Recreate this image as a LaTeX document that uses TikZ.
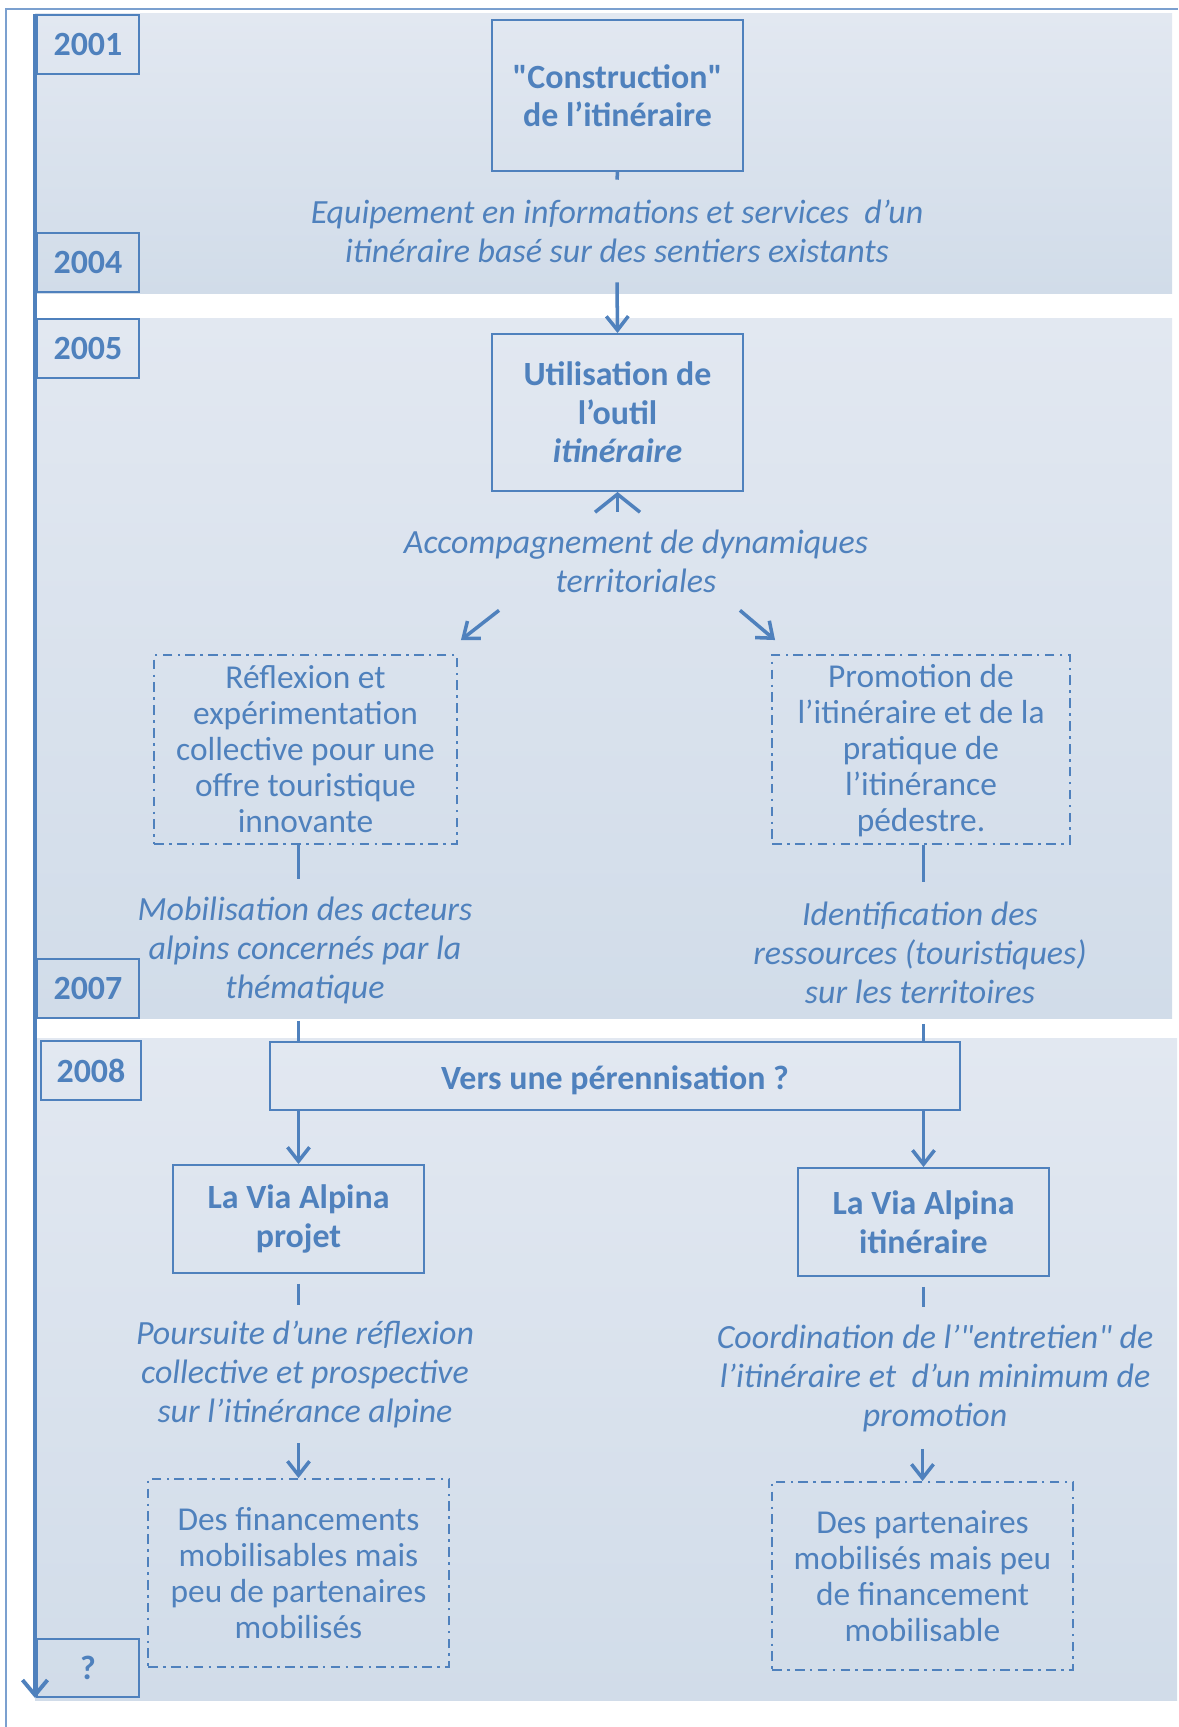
\documentclass[tikz,border=0pt]{standalone}
\usepackage{fontspec}
\setmainfont{Carlito}[Ligatures=TeXOff]
\usetikzlibrary{arrows.meta, positioning, calc}

\definecolor{itblue}{HTML}{4F81BD}
\definecolor{bandtop}{HTML}{E2E8F1}
\definecolor{bandbot}{HTML}{D1DCE9}
\definecolor{framecol}{HTML}{7BA0CF}

\begin{document}
\begin{tikzpicture}[
		x=0.02cm, y=-0.02cm,
		every node/.style={text=itblue, align=center, inner sep=0pt},
		mainbox/.style={draw=itblue, line width=1.1pt, minimum width=5.02cm, font=\fontsize{19.3}{21.9}\selectfont\bfseries},
		dashbox/.style={draw=itblue, line width=1.1pt, dash pattern=on 5.5pt off 3pt on 1.5pt off 3pt, minimum width=6.02cm, minimum height=3.76cm, font=\fontsize{19}{20.5}\selectfont},
		yearbox/.style={draw=itblue, line width=1.1pt, anchor=north west, minimum width=2.04cm, minimum height=1.18cm, font=\fontsize{19.3}{21.9}\selectfont\bfseries},
		note/.style={font=\fontsize{19.3}{22.2}\selectfont\itshape, minimum height=2.82cm},
		band/.style={top color=bandtop, bottom color=bandbot},
		link/.style={draw=itblue, line width=2pt},
		arrow/.style={link, -{Straight Barb[length=0.28cm, width=0.44cm]}},
		timeline/.style={draw=itblue, line width=2.2pt, -{Straight Barb[length=0.3cm, width=0.5cm]}}
		]
		
		\useasboundingbox (0,0) rectangle (1178,1727);
		
		% Periods
		\shade[band] (35,14) rectangle (1172,293);
		\shade[band] (35,318) rectangle (1172,1018);
		\shade[band] (35,1038) rectangle (1177,1700);
		
		% Frame
		\draw[framecol, line width=0.8pt] (6,1727) -- (6,9) -- (1178,9);
		
		% Time axis
		\coordinate (tstart) at (35,14);
		\coordinate (tend) at (35,1698);
		\draw[timeline] (tstart) -- (tend);
		
		% Years
		\node[yearbox] (y2001) at (36,14) {2001};
		\node[yearbox] (y2004) at (36,232) {2004};
		\node[yearbox] (y2005) at (36,318) {2005};
		\node[yearbox] (y2007) at (36,958) {2007};
		\node[yearbox, minimum width=2cm] (y2008) at (40,1040) {2008};
		\node[yearbox, minimum height=1.16cm] (yend) at (36,1638) {?};
		
		% 2001 - 2004
		\node[mainbox, minimum height=3.02cm] (constr) at (617.5,95.5) {"Construction"\\de l’itinéraire};
		
		\node[note, minimum height=2.04cm] (equip) at (617,231)
		{Equipement en informations et services\ \ d’un\\itinéraire basé sur des sentiers existants};
		
		% 2005 - 2007
		\node[mainbox, minimum height=3.14cm] (util) at (617.5,412.5) {Utilisation de\\l’outil\\\textit{itinéraire}};
		
		\node[note, minimum height=1.96cm] (accomp) at (636,561) {Accompagnement de dynamiques\\territoriales};
		
		\node[dashbox, minimum width=6.06cm, minimum height=3.78cm] (reflex) at (305.5,749.5)
		{Réflexion et\\expérimentation\\collective pour une\\offre touristique\\innovante};
		
		\node[dashbox, minimum width=5.96cm, minimum height=3.78cm] (promo) at (921,749.5)
		{\strut Promotion de\\l’itinéraire et de la\\pratique de\\l’itinérance\\pédestre.};
		
		\node[note] (mobil) at (305,950) {Mobilisation des acteurs\\alpins concernés par la\\thématique};
		
		\node[note] (ident) at (920,953) {Identification des\\ressources (touristiques)\\sur les territoires};
		
		% 2008 - ?
		\node[mainbox, minimum width=13.8cm, minimum height=1.36cm, text height=15.8pt, text depth=0pt] (vers) at (615,1076) {Vers une pérennisation ?};
		
		\node[mainbox, minimum height=2.16cm] (viaproj) at (298.5,1219) {La Via Alpina\\projet};
		\node[mainbox, minimum height=2.16cm] (viaiti) at (923.5,1222) {La Via Alpina\\itinéraire};
		
		\node[note, minimum height=2.76cm] (pours) at (305,1374) {Poursuite d’une réflexion\\collective et prospective\\sur l’itinérance alpine};
		
		\node[note] (coord) at (935,1378) {Coordination de l’"entretien" de\\l’itinéraire et\ \ d’un minimum de\\promotion};
		
		\node[dashbox] (financ) at (298.5,1573) {Des financements\\mobilisables mais\\peu de partenaires\\mobilisés};
		\node[dashbox] (parten) at (922.5,1576) {Des partenaires\\mobilisés mais peu\\de financement\\mobilisable};
		
		% Arrows
		\draw[link] (constr.south) -- (equip.north);
		\draw[arrow] (equip.south) -- (util.north);
		\draw[link, {Straight Barb[length=0.36cm, width=0.9cm]}-] (util.south) -- (util.south |- accomp.north);
		\draw[arrow] ([xshift=-2.74cm]accomp.south) -- ([shift={(3,-14)}]reflex.north east);
		\draw[arrow] ([xshift=2.08cm]accomp.south) -- ([shift={(4,-14)}]promo.north west);
		
		\draw[link] (reflex.south -| viaproj) -- (mobil.north -| viaproj);
		\draw[link] (mobil.south -| viaproj) -- (vers.north -| viaproj);
		\draw[link] (promo.south -| viaiti) -- (ident.north -| viaiti);
		\draw[link] (ident.south -| viaiti) -- (vers.north -| viaiti);
		
		\draw[arrow] (vers.south -| viaproj) -- (viaproj);
		\draw[arrow] (vers.south -| viaiti) -- (viaiti);
		
		\draw[link, shorten <=0.2cm] (viaproj) -- (pours.north -| viaproj);
		\draw[link, shorten <=0.2cm] (viaiti) -- (coord.north -| viaiti);
		\draw[arrow] (pours.south -| financ) -- (financ);
		\draw[arrow] (coord.south -| parten) -- (parten);
		
	\end{tikzpicture}
\end{document}
